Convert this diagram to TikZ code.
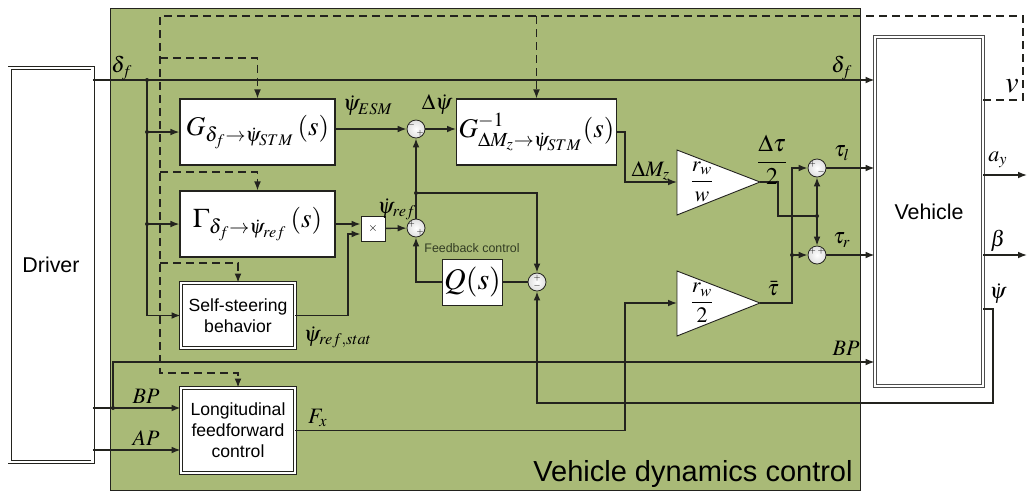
\documentclass[tikz,border=0pt]{standalone}
\usepackage{amsmath}
\usepackage{mathptmx}
\usepackage[no-math]{fontspec}
\setmainfont{Liberation Sans}
\usetikzlibrary{arrows.meta,positioning,calc}

\definecolor{vdcgreen}{RGB}{169,186,119}
\definecolor{wire}{RGB}{35,35,30}
\definecolor{fbtext}{RGB}{50,60,35}

\begin{document}
\begin{tikzpicture}[
  x=0.5pt, y=-0.5pt,
  every node/.style={align=center, font=\fontsize{8.8}{10.5}\selectfont},
  block/.style={rectangle, draw=wire, fill=white, line width=0.6pt, inner sep=1pt},
  tfblock/.style={block, minimum height=33pt, font=\fontsize{13.5}{16}\selectfont},
  dblock/.style={block, double=white, double distance=1.1pt, line width=0.45pt},
  sumnode/.style={circle, draw=wire, line width=0.4pt, minimum size=9pt, inner sep=0pt,
    inner color=white, outer color=gray!25},
  sign/.style={font=\fontsize{4.5}{5}\selectfont, inner sep=0pt, label distance=-4.3pt},
  line/.style={draw=wire, line width=0.7pt},
  arrow/.style={line, -{Latex[length=4.5pt,width=3.4pt]}},
  dashline/.style={draw=wire, line width=0.6pt, dash pattern=on 4pt off 2.5pt},
  dasharrow/.style={dashline, -{Latex[length=4.5pt,width=3.4pt]}},
  sig/.style={font=\fontsize{11}{12}\selectfont, inner sep=1pt},
  dot/.style={circle, fill=wire, inner sep=0pt, minimum size=2pt}
]
\useasboundingbox (0,0) rectangle (1031,494);

% --- CONTROLLER AREA ---
\fill[vdcgreen] (110,8) rectangle (860,490);
\draw[wire, line width=0.5pt] (110,8) rectangle (860,490);
\node[anchor=south east, inner sep=0pt, font=\fontsize{14.5}{16}\selectfont] (vdctitle) at (853,488) {Vehicle dynamics control};

% --- DRIVER AND VEHICLE ---
\node[dblock, minimum width=41.5pt, minimum height=197pt, font=\fontsize{10.7}{12}\selectfont] (driver) at (51,265) {Driver};
\node[dblock, draw=gray!60!black, minimum width=54pt, minimum height=174.5pt, font=\fontsize{10.7}{12}\selectfont] (vehicle) at (929,211.5) {Vehicle};

% --- TRANSFER BLOCKS ---
\node[tfblock, minimum width=77.5pt] (gstm) at (257.5,132) {$G_{\delta_f\rightarrow\dot\psi_{STM}}\,(s)$};
\node[tfblock, minimum width=77.5pt] (gref) at (257.5,224) {$\Gamma_{\delta_f\rightarrow\dot\psi_{ref}}\,(s)$};
\node[tfblock, minimum width=76.5pt] (ginv) at (536.5,132) {$G^{-1}_{\Delta M_z\rightarrow\dot\psi_{STM}}(s)$};
\node[dblock, minimum width=57pt, minimum height=32.5pt] (self) at (238,315.5) {Self-steering\\behavior};
\node[dblock, minimum width=57pt, minimum height=42.5pt] (longi) at (238,430.5) {Longitudinal\\feedforward\\control};
\node[block, line width=0.45pt, minimum width=12pt, minimum height=12.5pt, font=\fontsize{6}{7}\selectfont] (mult) at (373,228.5) {$\times$};
\node[block, line width=0.45pt, minimum width=28.5pt, minimum height=23pt, font=\fontsize{15}{17}\selectfont] (qs) at (472.5,282) {$Q(s)$};
\node[font=\fontsize{6.2}{7}\selectfont, text=fbtext] (fblabel) at (472,248) {Feedback control};

% --- GAINS ---
\coordinate (k1w) at (677,182);
\coordinate (k1e) at (760,182);
\coordinate (k2w) at (677,303);
\coordinate (k2e) at (760,303);
\draw[wire, fill=white, line width=0.45pt] (677,150) -- (k1e) -- (677,215) -- cycle;
\draw[wire, fill=white, line width=0.45pt] (677,271) -- (k2e) -- (677,336) -- cycle;
\node[font=\fontsize{11}{12}\selectfont] (k1txt) at (702,182) {$\dfrac{r_w}{w}$};
\node[font=\fontsize{11}{12}\selectfont] (k2txt) at (702,303) {$\dfrac{r_w}{2}$};

% --- SUMMING POINTS ---
\node[sumnode, label={[sign]150:$-$}, label={[sign]-80:$+$}] (sum1) at (416,129) {};
\node[sumnode, label={[sign]170:$+$}, label={[sign]-80:$+$}] (sum2) at (416,228) {};
\node[sumnode, label={[sign]90:$+$}, label={[sign]-90:$-$}] (sum3) at (537,282) {};
\node[sumnode, label={[sign]175:$+$}, label={[sign]-80:$-$}] (suml) at (817,168) {};
\node[sumnode, label={[sign]170:$+$}, label={[sign]80:$+$}] (sumr) at (817,255) {};

% --- JUNCTIONS ---
\coordinate (jdf) at (147,80);
\coordinate (dtl) at (160,16);
\coordinate (dcor) at (1023,100);
\coordinate (db1) at (160,58);
\coordinate (db2) at (160,172);
\coordinate (db3) at (160,263);
\coordinate (dbot) at (160,373);
\coordinate (mulin) at (348,234);
\coordinate (jfb) at (416,193);
\coordinate (jfx) at (625,431);
\coordinate (k1bend) at (778,216);
\coordinate (jtau) at (817,216);
\coordinate (jtl) at (792,168);
\coordinate (jtb) at (792,255);
\coordinate (jpsi) at (993,309);
\coordinate (jpsb) at (993,403);
\coordinate (jbp) at (113,408);
\coordinate (bpv) at (113,362);
\coordinate (apin) at (120,450);
\coordinate (ayend) at (1027,175);
\coordinate (beend) at (1027,255);

% --- SCHEDULING BY v (DASHED) ---
\draw[dasharrow] (dcor -| vehicle.east) -- (dcor) |- (dtl) -- (dbot) -| (longi.north);
\draw[dasharrow] (db1) -| (gstm.north);
\draw[dasharrow] (db2) -| (gref.north);
\draw[dasharrow] (db3) -| (self.north);
\draw[dasharrow] (dtl -| ginv.north) -- (ginv.north);

% --- STEERING PATH ---
\draw[arrow] (jdf -| driver.east) -- (jdf -| vehicle.west);
\draw[line] (jdf) -- (jdf |- self.west);
\draw[arrow] (jdf |- gstm.west) -- (gstm.west);
\draw[arrow] (jdf |- gref.west) -- (gref.west);
\draw[arrow] (jdf |- self.west) -- (self.west);
\node[dot] at (jdf) {};
\node[dot] at (jdf |- gstm.west) {};
\node[dot] at (jdf |- gref.west) {};

\draw[arrow] (gstm.east |- sum1) -- (sum1);
\draw[arrow] (sum1) -- (sum1 -| ginv.west);
\draw[arrow] (gref.east) -- (gref.east -| mult.west);
\draw[arrow] (self.east) -| (mulin) -- (mulin -| mult.west);
\draw[arrow] (mult) -- (sum2);
\draw[arrow] (sum2) -- (sum1);
\draw[arrow] (jfb) -| (sum3);
\node[dot] at (jfb) {};
\draw[line] (sum3) -- (qs);
\draw[arrow] (qs.west) -| (sum2);
\draw[arrow] (jpsi -| vehicle.east) -- (jpsi) -- (jpsb) -| (sum3);

% --- TORQUE DISTRIBUTION ---
\draw[arrow] (ginv.east) -- (ginv.east -| jfx) |- (k1w);
\draw[line] (k1e) -| (k1bend) -- (jtau);
\draw[arrow] (jtau) -- (suml);
\draw[arrow] (jtau) -- (sumr);
\node[dot] at (jtau) {};
\draw[arrow] (longi.east) -- (longi.east -| jfx) |- (k2w);
\draw[arrow] (k2e) -| (jtl) -- (suml);
\draw[arrow] (jtb) -- (sumr);
\node[dot] at (jtb) {};
\draw[arrow] (suml) -- (suml -| vehicle.west);
\draw[arrow] (sumr) -- (sumr -| vehicle.west);

% --- PEDALS ---
\draw[arrow] (jbp -| driver.east) -- (jbp -| longi.west);
\draw[arrow] (jbp) -- (bpv) -- (bpv -| vehicle.west);
\node[dot] at (jbp) {};
\draw[arrow] (apin -| driver.east) -- (apin -| longi.west);

% --- VEHICLE OUTPUTS ---
\draw[arrow] (ayend -| vehicle.east) -- (ayend);
\draw[arrow] (beend -| vehicle.east) -- (beend);

% --- SIGNAL LABELS ---
\node[sig] (ldf1) at (122,68) {$\delta_f$};
\node[sig] (ldf2) at (842,68) {$\delta_f$};
\node[sig] (lesm) at (368,106) {$\dot\psi_{ESM}$};
\node[sig] (ldpsi) at (437,104) {$\Delta\dot\psi$};
\node[sig] (lref) at (397,209) {$\dot\psi_{ref}$};
\node[sig] (lstat) at (338,337) {$\dot\psi_{ref,stat}$};
\node[sig] (ldmz) at (651,171) {$\Delta M_z$};
\node[sig, font=\fontsize{12}{13}\selectfont] (ldtau) at (772,160) {$\dfrac{\Delta\tau}{2}$};
\node[sig] (ltbar) at (773,289) {$\bar\tau$};
\node[sig] (ltl) at (842,153) {$\tau_l$};
\node[sig] (ltr) at (842,240) {$\tau_r$};
\node[sig] (lbp1) at (146,396) {$BP$};
\node[sig] (lap) at (146,438) {$AP$};
\node[sig] (lbp2) at (846,348) {$BP$};
\node[sig] (lfx) at (318,418) {$F_x$};
\node[sig] (lay) at (998,160) {$a_y$};
\node[sig] (lbeta) at (998,241) {$\beta$};
\node[sig] (lpsi) at (998,294) {$\dot\psi$};
\node[sig, font=\fontsize{15}{16}\selectfont] (lnu) at (1012,86) {$v$};

\end{tikzpicture}
\end{document}
